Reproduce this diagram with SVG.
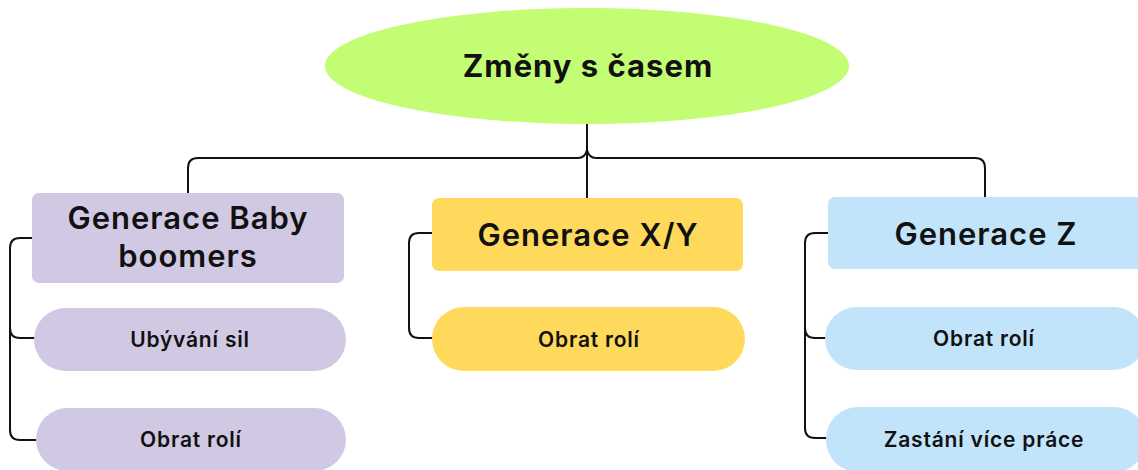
<svg xmlns="http://www.w3.org/2000/svg" width="1138" height="470" viewBox="0 0 1138 470">
<style>
.t{font-family:Inter,"Open Sans","Noto Sans",sans-serif;font-weight:700;fill:#111;text-anchor:middle}
.h{font-size:31px;font-weight:600;letter-spacing:1px}
.s{font-size:21px;font-weight:600;letter-spacing:0.8px}
.c{fill:none;stroke:#111;stroke-width:2;stroke-linecap:round;stroke-linejoin:round}
.p{fill:#d1c9e4}.y{fill:#ffd95b}.b{fill:#c1e4fb}
</style>
<rect width="1138" height="470" fill="#fff"/>
<g id="connectors">
<path class="c" d="M587,124 V198"/>
<path class="c" d="M188,193 V168 Q188,158 198,158 H578 Q585,158 587,150 Q589,158 596,158 H975 Q985,158 985,168 V197"/>
<path class="c" d="M32,238 H20 Q10,238 10,248 V430 Q10,440 20,440 H36 M10,328 Q10,338 20,338 H34"/>
<path class="c" d="M432,233 H419 Q409,233 409,243 V328 Q409,338 419,338 H432"/>
<path class="c" d="M828,233 H815 Q805,233 805,243 V428 Q805,438 815,438 H826 M805,328 Q805,338 815,338 H826"/>
</g>
<g id="root">
<ellipse cx="587" cy="66" rx="262" ry="58" fill="#c2fd73"/>
<text class="t" x="588" y="77" font-size="31" letter-spacing="1">Změny s časem</text>
</g>
<g id="baby">
<rect class="p" x="32" y="193" width="312" height="90" rx="7"/>
<text class="t h" x="188" y="229">Generace Baby</text>
<text class="t h" x="188" y="267">boomers</text>
</g>
<g id="baby-1">
<rect class="p" x="34" y="308" width="312" height="63" rx="31.5"/>
<text class="t s" x="190" y="347">Ubývání sil</text>
</g>
<g id="baby-2">
<rect class="p" x="36" y="408" width="310" height="63" rx="31.5"/>
<text class="t s" x="191" y="447">Obrat rolí</text>
</g>
<g id="xy">
<rect class="y" x="432" y="198" width="311" height="73" rx="7"/>
<text class="t h" x="588" y="246">Generace X/Y</text>
</g>
<g id="xy-1">
<rect class="y" x="432" y="307" width="313" height="64" rx="32"/>
<text class="t s" x="589" y="347">Obrat rolí</text>
</g>
<g id="z">
<rect class="b" x="828" y="197" width="318" height="72" rx="7"/>
<text class="t h" x="986" y="245">Generace Z</text>
</g>
<g id="z-1">
<rect class="b" x="825" y="307" width="320" height="63" rx="31.5"/>
<text class="t s" x="984" y="346">Obrat rolí</text>
</g>
<g id="z-2">
<rect class="b" x="826" y="407" width="320" height="65" rx="32"/>
<text class="t s" x="984" y="447">Zastání více práce</text>
</g>
</svg>
